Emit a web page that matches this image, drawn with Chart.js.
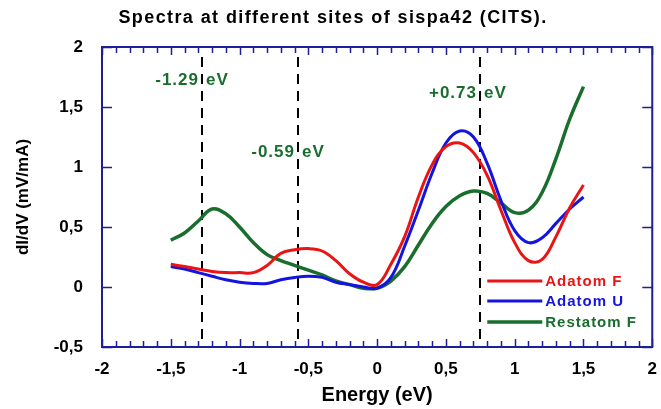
<!DOCTYPE html>
<html>
<head>
<meta charset="utf-8">
<script src="https://cdn.jsdelivr.net/npm/chart.js@4/dist/chart.umd.min.js"></script>
<style>
  html, body { margin: 0; padding: 0; background: #fff; }
  canvas { display: block; }
</style>
</head>
<body>
<canvas id="myChart" width="661" height="409"></canvas>
<script>
// energy grid (eV) and the three dI/dV spectra
const energy = [-1.5, -1.4, -1.3, -1.2, -1.1, -1.0, -0.9, -0.8, -0.7, -0.6, -0.5, -0.4, -0.3, -0.2, -0.1, 0,
  0.1, 0.2, 0.3, 0.4, 0.5, 0.6, 0.7, 0.8, 0.9, 1.0, 1.1, 1.2, 1.3, 1.4, 1.5];
const adatomF = [0.19, 0.17, 0.15, 0.13, 0.12, 0.12, 0.12, 0.18, 0.28, 0.31, 0.32, 0.3, 0.22, 0.11, 0.04, 0.02,
  0.19, 0.42, 0.75, 1.02, 1.17, 1.2, 1.12, 0.93, 0.64, 0.37, 0.22, 0.23, 0.42, 0.66, 0.85];
const adatomU = [0.17, 0.15, 0.12, 0.09, 0.06, 0.04, 0.03, 0.03, 0.06, 0.08, 0.09, 0.08, 0.04, 0.02, 0.0, -0.01,
  0.08, 0.34, 0.64, 0.95, 1.2, 1.3, 1.25, 1.03, 0.72, 0.47, 0.37, 0.41, 0.53, 0.65, 0.75];
const restatomF = [0.39, 0.45, 0.55, 0.65, 0.61, 0.5, 0.37, 0.27, 0.22, 0.18, 0.14, 0.1, 0.05, 0.02, -0.01, -0.01,
  0.05, 0.17, 0.35, 0.53, 0.67, 0.76, 0.8, 0.78, 0.7, 0.62, 0.64, 0.79, 1.07, 1.4, 1.67];
const seriesNames = ["Adatom F", "Adatom U", "Restatom F"];

// marked peak energies
const peakEnergies = [-1.29, -0.59, 0.73];
const peakTexts = ["-1.29", "-0.59", "+0.73"];
const peakTextLevels = [1.72, 1.125, 1.61];

const navy = "rgb(30,30,150)";
const green = "rgb(25,110,45)";
const fontFam = "'Liberation Sans', Arial, sans-serif";

function pts(arr) {
  return energy.map((e, i) => ({ x: e, y: arr[i] }));
}
function comma(v) {
  return String(v).replace(".", ",");
}

// frame with inward ticks on all four sides
const framePlugin = {
  id: "frame",
  afterDatasetsDraw(chart) {
    const { ctx, chartArea: a, scales } = chart;
    ctx.save();
    ctx.strokeStyle = navy;
    ctx.lineWidth = 1.5;
    ctx.beginPath();
    for (let i = -20; i <= 20; i++) {
      const px = Math.round(scales.x.getPixelForValue(i / 10)) + 0.5;
      const len = i % 5 === 0 ? 8 : 6;
      ctx.moveTo(px, a.bottom); ctx.lineTo(px, a.bottom - len);
      ctx.moveTo(px, a.top); ctx.lineTo(px, a.top + len);
    }
    for (let v = -0.5; v <= 2; v += 0.5) {
      const py = Math.round(scales.y.getPixelForValue(v)) + 0.5;
      ctx.moveTo(a.left, py); ctx.lineTo(a.left + 10, py);
      ctx.moveTo(a.right, py); ctx.lineTo(a.right - 10, py);
    }
    ctx.stroke();
    ctx.lineWidth = 2;
    ctx.strokeRect(a.left, a.top, a.right - a.left, a.bottom - a.top);
    ctx.restore();
  }
};

// dashed peak markers and their labels
const peakPlugin = {
  id: "peaks",
  beforeDatasetsDraw(chart) {
    const { ctx, chartArea: a, scales } = chart;
    ctx.save();
    ctx.strokeStyle = "#000";
    ctx.lineWidth = 2;
    ctx.setLineDash([10, 7]);
    peakEnergies.forEach((e, i) => {
      const px = Math.round(scales.x.getPixelForValue(e)) + 2;
      ctx.beginPath();
      ctx.moveTo(px, a.top + 10);
      ctx.lineTo(px, a.bottom);
      ctx.stroke();
      const py = scales.y.getPixelForValue(peakTextLevels[i]);
      ctx.fillStyle = green;
      ctx.font = "bold 17px " + fontFam;
      ctx.letterSpacing = "1px";
      ctx.textBaseline = "middle";
      ctx.textAlign = "right";
      ctx.fillText(peakTexts[i], px - 3, py);
      ctx.textAlign = "left";
      ctx.fillText("eV", px + 4, py);
    });
    ctx.restore();
  }
};

// title and legend drawn in place
const textPlugin = {
  id: "texts",
  afterDraw(chart) {
    const { ctx, chartArea: a } = chart;
    ctx.save();
    ctx.fillStyle = "#000";
    ctx.font = "bold 18px " + fontFam;
    ctx.letterSpacing = "1.4px";
    ctx.textAlign = "center";
    ctx.textBaseline = "middle";
    ctx.fillText("Spectra at different sites of sispa42 (CITS).", 333, 18);

    const rows = [a.bottom - 66, a.bottom - 46, a.bottom - 25];
    chart.data.datasets.forEach((ds, i) => {
      ctx.strokeStyle = ds.borderColor;
      ctx.lineWidth = ds.borderWidth;
      ctx.beginPath();
      ctx.moveTo(a.right - 165, rows[i]);
      ctx.lineTo(a.right - 110, rows[i]);
      ctx.stroke();
      ctx.fillStyle = ds.borderColor;
      ctx.font = "bold 15px " + fontFam;
      ctx.letterSpacing = "1px";
      ctx.textAlign = "left";
      ctx.fillText(ds.label, a.right - 107, rows[i] + 1);
    });
    ctx.restore();
  }
};

const ctx = document.getElementById("myChart").getContext("2d");
const myChart = new Chart(ctx, {
  type: "line",
  data: {
    datasets: [
      { label: seriesNames[0], data: pts(adatomF), borderColor: "rgb(235,20,20)", borderWidth: 3 },
      { label: seriesNames[1], data: pts(adatomU), borderColor: "rgb(20,20,225)", borderWidth: 3 },
      { label: seriesNames[2], data: pts(restatomF), borderColor: green, borderWidth: 3.5 }
    ]
  },
  options: {
    responsive: false,
    devicePixelRatio: 1,
    animation: false,
    parsing: { xAxisKey: "x", yAxisKey: "y" },
    elements: { point: { radius: 0 }, line: { tension: 0.4, fill: false } },
    layout: { padding: { top: 47, right: 6, left: 0, bottom: 0 } },
    plugins: { legend: { display: false }, title: { display: false }, tooltip: { enabled: false } },
    scales: {
      x: {
        type: "linear",
        min: -2, max: 2,
        grid: { display: false },
        border: { display: false },
        afterFit(s) { s.height = 62; },
        ticks: {
          stepSize: 0.5, autoSkip: false, maxRotation: 0, padding: 4,
          color: "#000", font: { family: fontFam, size: 17, weight: "bold" },
          callback: v => comma(v)
        },
        title: {
          display: true, text: "Energy (eV)", color: "#000",
          font: { family: fontFam, size: 20, weight: "bold" },
          padding: { top: 0, bottom: 2 }
        }
      },
      y: {
        min: -0.5, max: 2,
        grid: { display: false },
        border: { display: false },
        afterFit(s) { s.width = 102; },
        ticks: {
          stepSize: 0.5, padding: 11,
          color: "#000", font: { family: fontFam, size: 17, weight: "bold" },
          callback: v => comma(v)
        },
        title: {
          display: true, text: "dI/dV (mV/mA)", color: "#000",
          font: { family: fontFam, size: 17, weight: "bold" },
          padding: { top: 13, bottom: 0 }
        }
      }
    }
  },
  plugins: [peakPlugin, framePlugin, textPlugin]
});
</script>
</body>
</html>
